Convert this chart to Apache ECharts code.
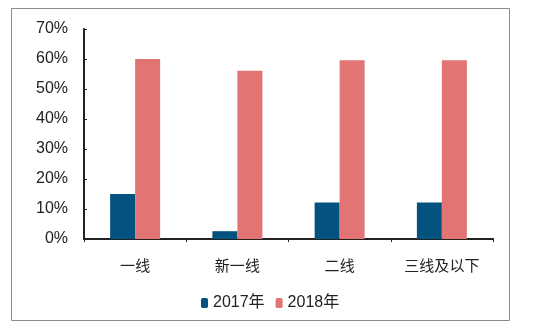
<!DOCTYPE html>
<html><head><meta charset="utf-8">
<script src="https://cdn.jsdelivr.net/npm/echarts@6/dist/echarts.min.js"></script>
<style>html,body{margin:0;padding:0;background:#fff}#c{width:544px;height:331px}</style>
</head><body><div id="c"></div>
<script>
const categories = ['一线', '新一线', '二线', '三线及以下'];
const series2017 = [15.0, 2.6, 12.2, 12.2];
const series2018 = [60.0, 56.1, 59.6, 59.6];
const seriesNames = ['2017年', '2018年'];
const yTicks = [0, 10, 20, 30, 40, 50, 60, 70];

const chart = echarts.init(document.getElementById('c'), null, {renderer: 'canvas'});
const font = '"Liberation Sans", Arial, "Noto Sans CJK SC", sans-serif';
chart.setOption({
  animation: false,
  backgroundColor: '#fff',
  graphic: [{
    type: 'rect', shape: {x: 11.5, y: 8.5, width: 498, height: 312},
    style: {fill: 'none', stroke: '#8c8c8c', lineWidth: 1}, silent: true
  }],
  grid: {left: 84, right: 51, top: 29, bottom: 92, containLabel: false},
  legend: {
    left: 196, top: 290, itemWidth: 7, itemHeight: 10, itemGap: 11,
    icon: 'roundRect',
    textStyle: {fontFamily: font, fontSize: 16, color: '#222'},
    data: seriesNames
  },
  xAxis: {
    type: 'category', data: categories,
    axisLine: {lineStyle: {color: '#222', width: 2}},
    axisTick: {show: true, length: 3, lineStyle: {color: '#222'}},
    axisLabel: {fontFamily: font, fontSize: 15, color: '#222', margin: 20}
  },
  yAxis: {
    type: 'value', min: yTicks[0], max: yTicks[yTicks.length - 1], interval: 10,
    splitLine: {show: false},
    axisLine: {show: true, lineStyle: {color: '#222', width: 2}},
    axisTick: {show: true, inside: true, length: 3, lineStyle: {color: '#222'}},
    axisLabel: {fontFamily: font, fontSize: 16, color: '#222', margin: 16, formatter: '{value}%'}
  },
  series: [
    {name: seriesNames[0], type: 'bar', data: series2017, barWidth: 25, barGap: '0%',
     itemStyle: {color: '#04527F'}},
    {name: seriesNames[1], type: 'bar', data: series2018, barWidth: 25,
     itemStyle: {color: '#E27473'}}
  ]
});
</script></body></html>
